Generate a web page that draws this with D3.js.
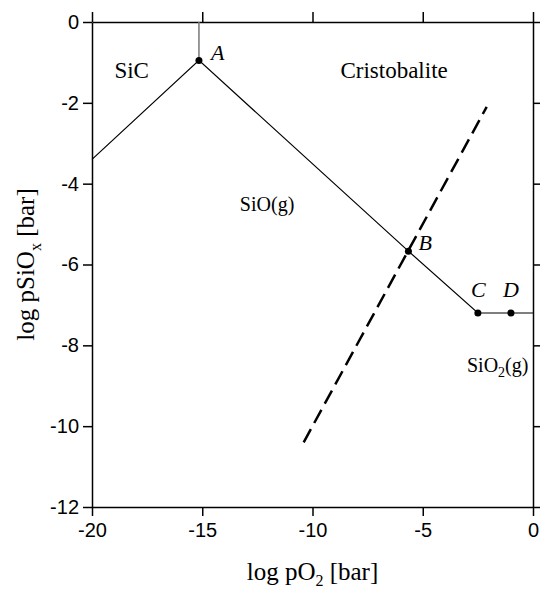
<!DOCTYPE html>
<html lang="en">
<head>
    <meta charset="UTF-8">
    <title>SiC - SiO2 volatility diagram</title>
    <script src="https://d3js.org/d3.v7.min.js"></script>
    <style>
        body{
            margin: 0;
            background: #fff;
        }
        .tick_text{
            font-family: "Liberation Sans", Arial, sans-serif;
            font-size: 20px;
        }
        .serif{
            font-family: "Liberation Serif", "Times New Roman", serif;
        }
    </style>
</head>
<body>
<svg width="540" height="590"></svg>

<script>
    // axis ticks
    const xTicks = [-20, -15, -10, -5, 0];
    const yTicks = [0, -2, -4, -6, -8, -10, -12];

    // phase boundary (log pO2, log pSiOx)
    const boundaryX = [-20, -15.15, -5.65, -2.5, -1.0, 0];
    const boundaryY = [-3.4, -0.95, -5.67, -7.2, -7.2, -7.2];

    // vertical line from A up to the top
    const verticalX = [-15.15, -15.15];
    const verticalY = [-0.95, 0];

    // dashed line
    const dashedX = [-10.4, -2.1];
    const dashedY = [-10.4, -2.1];

    // marked points
    const pointNames = ["A", "B", "C", "D"];
    const pointX = [-15.15, -5.65, -2.5, -1.0];
    const pointY = [-0.95, -5.67, -7.2, -7.2];

    // region labels
    const regionNames = ["SiC", "Cristobalite", "SiO(g)", "SiO2(g)"];
    const regionX = [-18.2, -6.3, -12.06, -1.6];
    const regionY = [-1.39, -1.39, -4.68, -8.66];

    const svg = d3.select("svg");
    const mLeft = 92, mRight = 533, mTop = 22, mBottom = 507;

    const x = d3.scaleLinear().domain([-20, 0]).range([mLeft, mRight]);
    const y = d3.scaleLinear().domain([-12, 0]).range([mBottom, mTop]);

    // axes (plain hyphen in labels, like the original)
    const fmt = d => String(d);
    const gBottom = svg.append("g")
        .attr("transform", `translate(0,${mBottom})`)
        .call(d3.axisBottom(x).tickValues(xTicks).tickFormat(fmt).tickSize(9).tickPadding(6).tickSizeOuter(0));
    const gLeft = svg.append("g")
        .attr("transform", `translate(${mLeft},0)`)
        .call(d3.axisLeft(y).tickValues(yTicks).tickFormat(fmt).tickSize(9).tickPadding(4).tickSizeOuter(0));
    const gTop = svg.append("g")
        .attr("transform", `translate(0,${mTop})`)
        .call(d3.axisTop(x).tickValues(xTicks).tickSize(10).tickFormat("").tickSizeOuter(0));
    const gRight = svg.append("g")
        .attr("transform", `translate(${mRight},0)`)
        .call(d3.axisRight(y).tickValues(yTicks).tickSize(8).tickFormat("").tickSizeOuter(0));

    [gBottom, gLeft, gTop, gRight].forEach(g => {
        g.select(".domain").attr("stroke", "#000").attr("stroke-width", 1.5);
        g.selectAll(".tick line").attr("stroke", "#000").attr("stroke-width", 1.5);
        g.selectAll(".tick text").attr("class", "tick_text").attr("fill", "#000");
    });
    gBottom.selectAll(".tick text").attr("dy", "0.75em");

    const line = d3.line().x(d => x(d[0])).y(d => y(d[1]));

    // vertical line A -> top
    svg.append("path")
        .attr("d", line(d3.zip(verticalX, verticalY)))
        .attr("stroke", "#777")
        .attr("stroke-width", 1.5)
        .attr("fill", "none");

    // phase boundary
    svg.append("path")
        .attr("d", line(d3.zip(boundaryX, boundaryY)))
        .attr("stroke", "#000")
        .attr("stroke-width", 1.2)
        .attr("fill", "none");

    // dashed line
    svg.append("path")
        .attr("d", line(d3.zip(dashedX, dashedY)))
        .attr("stroke", "#000")
        .attr("stroke-width", 2.5)
        .attr("stroke-dasharray", "15,7")
        .attr("fill", "none");

    // points
    const labelOffset = {A: [12, 0], B: [10, -1], C: [-7, -16], D: [-8, -16]};
    const pts = d3.zip(pointNames, pointX, pointY);
    svg.selectAll("circle.pt")
        .data(pts)
        .enter()
        .append("circle")
        .attr("class", "pt")
        .attr("cx", d => x(d[1]))
        .attr("cy", d => y(d[2]))
        .attr("r", 3.5)
        .attr("fill", "#000");
    svg.selectAll("text.ptlabel")
        .data(pts)
        .enter()
        .append("text")
        .attr("class", "serif")
        .attr("x", d => x(d[1]) + labelOffset[d[0]][0])
        .attr("y", d => y(d[2]) + labelOffset[d[0]][1])
        .attr("font-size", 22)
        .attr("font-style", "italic")
        .text(d => d[0]);

    // region labels
    const regions = d3.zip(regionNames, regionX, regionY);
    regions.forEach(d => {
        const t = svg.append("text")
            .attr("class", "serif")
            .attr("x", x(d[1]))
            .attr("y", y(d[2]))
            .attr("text-anchor", "middle")
            .attr("font-size", d[0].startsWith("SiO") ? 20 : 23);
        if (d[0] === "SiO2(g)") {
            t.append("tspan").text("SiO");
            t.append("tspan").attr("font-size", 14).attr("dy", 5).text("2");
            t.append("tspan").attr("dy", -5).text("(g)");
        } else {
            t.text(d[0]);
        }
    });

    // axis titles
    const xt = svg.append("text")
        .attr("class", "serif")
        .attr("x", (mLeft + mRight) / 2)
        .attr("y", 580)
        .attr("text-anchor", "middle")
        .attr("font-size", 25);
    xt.append("tspan").text("log pO");
    xt.append("tspan").attr("font-size", 16).attr("dy", 6).text("2");
    xt.append("tspan").attr("dy", -6).text(" [bar]");

    const yt = svg.append("text")
        .attr("class", "serif")
        .attr("transform", `translate(34,${(mTop + mBottom) / 2}) rotate(-90)`)
        .attr("text-anchor", "middle")
        .attr("font-size", 25);
    yt.append("tspan").text("log pSiO");
    yt.append("tspan").attr("font-size", 16).attr("dy", 7).text("x");
    yt.append("tspan").attr("dy", -7).text(" [bar]");
</script>
</body>
</html>
